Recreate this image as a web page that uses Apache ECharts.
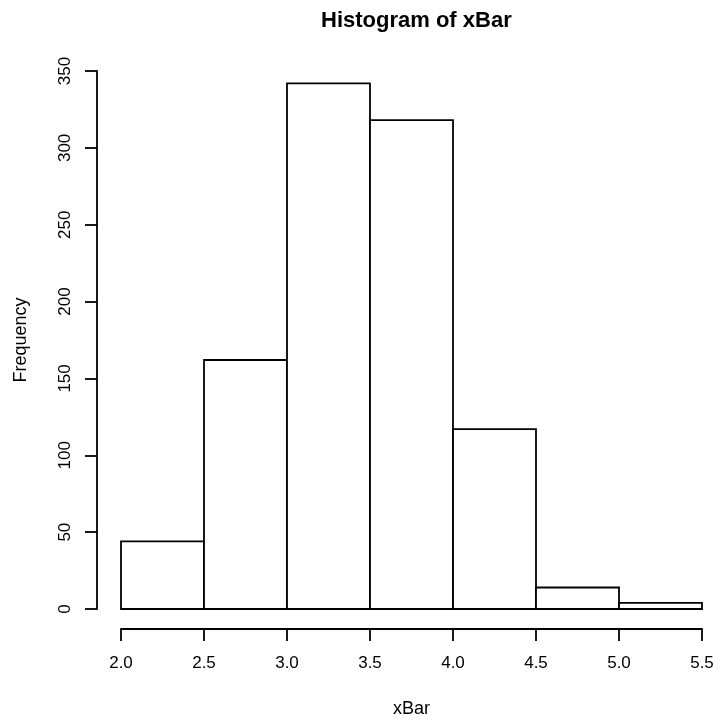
<!DOCTYPE html>
<html>
<head>
<meta charset="utf-8">
<script src="https://cdn.jsdelivr.net/npm/echarts@6/dist/echarts.min.js"></script>
<style>html,body{margin:0;padding:0;background:#fff}#c{width:722px;height:722px}</style>
</head>
<body>
<div id="c"></div>
<script>
var binStarts = [2.0, 2.5, 3.0, 3.5, 4.0, 4.5, 5.0];
var binEnds   = [2.5, 3.0, 3.5, 4.0, 4.5, 5.0, 5.5];
var counts    = [44, 162, 342, 318, 117, 14, 4];
var xTicks = [2.0, 2.5, 3.0, 3.5, 4.0, 4.5, 5.0, 5.5];
var yTicks = [0, 50, 100, 150, 200, 250, 300, 350];

var data = binStarts.map(function (s, i) { return [s, binEnds[i], counts[i]]; });
var FONT = '"Liberation Sans", Arial, Helvetica, sans-serif';

var chart = echarts.init(document.getElementById('c'), null, {renderer: 'canvas'});
chart.setOption({
  backgroundColor: '#fff',
  animation: false,
  title: {
    text: 'Histogram of xBar',
    left: 316,
    top: 5,
    textStyle: {fontFamily: FONT, fontSize: 22, fontWeight: 'bold', color: '#000'}
  },
  grid: {left: 121, right: 20, top: 71, bottom: 113, containLabel: false, outerBoundsMode: 'none'},
  xAxis: {
    type: 'value',
    min: xTicks[0], max: xTicks[xTicks.length - 1], interval: 0.5,
    offset: 20,
    name: 'xBar', nameLocation: 'middle', nameGap: 71,
    nameTextStyle: {fontFamily: FONT, fontSize: 18, color: '#000'},
    axisLine: {show: true, onZero: false, lineStyle: {color: '#000', width: 1.8}},
    axisTick: {show: true, length: 12, lineStyle: {color: '#000', width: 1.8}},
    axisLabel: {fontFamily: FONT, fontSize: 17, color: '#000', margin: 26,
      formatter: function (v) { return v.toFixed(1); }},
    splitLine: {show: false}
  },
  yAxis: {
    type: 'value',
    min: yTicks[0], max: yTicks[yTicks.length - 1], interval: 50,
    offset: 24,
    name: 'Frequency', nameLocation: 'middle', nameGap: 67, nameRotate: 90,
    nameTextStyle: {fontFamily: FONT, fontSize: 18, color: '#000'},
    axisLine: {show: true, onZero: false, lineStyle: {color: '#000', width: 1.8}},
    axisTick: {show: true, length: 12, lineStyle: {color: '#000', width: 1.8}},
    axisLabel: {fontFamily: FONT, fontSize: 17, color: '#000', rotate: 90, margin: 23},
    splitLine: {show: false}
  },
  series: [{
    type: 'custom',
    data: data,
    encode: {x: [0, 1], y: 2},
    renderItem: function (params, api) {
      var p0 = api.coord([api.value(0), api.value(2)]);
      var p1 = api.coord([api.value(1), 0]);
      return {
        type: 'rect',
        shape: {x: p0[0], y: p0[1], width: p1[0] - p0[0], height: p1[1] - p0[1]},
        style: {fill: '#fff', stroke: '#000', lineWidth: 1.8}
      };
    }
  }]
});
</script>
</body>
</html>
